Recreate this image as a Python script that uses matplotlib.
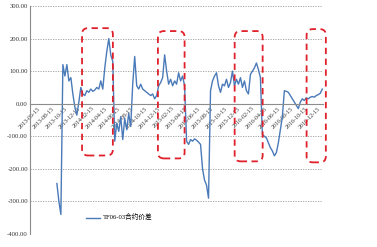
import pandas as pd
import matplotlib
matplotlib.use("Agg")
import matplotlib.pyplot as plt
import matplotlib.dates as mdates
from matplotlib.patches import FancyBboxPatch

plt.rcParams['font.family'] = ['Liberation Serif', 'Noto Sans CJK SC']

# spread series, one reading about every 9 days from 2013-10-16
spread = [
    -245, -300, -340, 120, 85, 120, 70, 80, 30, -10,
    -35, 5, 50, 30, 25, 40, 35, 45, 38, 42,
    50, 45, 70, 45, 110, 160, 200, 150, 130, -115,
    -60, -85, -40, -110, -45, -80, -30, -70, 60, 145,
    55, 45, 60, 45, 40, 35, 30, 25, 30, 15,
    25, 55, 65, 80, 150, 100, 60, 75, 55, 70,
    60, 95, 70, 85, 55, -115, -125, -110, -115, -108,
    -112, -118, -125, -200, -235, -250, -290, 40, 70, 85,
    95, 55, 35, 60, 55, 75, 50, 65, 100, 55,
    75, 60, 80, 50, 70, 40, 30, 90, 100, 110,
    125, 105, 80, -95, -100, -105, -120, -135, -145, -160,
    -150, -120, -80, -40, 40, 38, 35, 25, 15, 5,
    -5, -15, 5, 15, 10, 18, 15, 20, 22, 20,
    25, 28, 32, 45,
]
dates = pd.date_range('2013-10-16', periods=len(spread), freq='219h').to_pydatetime()

# highlighted roll windows: start, end, top, bottom
boxes = [
    ('2014-02-08', '2014-06-29', 232, -159),
    ('2015-01-21', '2015-05-23', 223, -168),
    ('2016-01-07', '2016-05-14', 223, -177),
    ('2016-12-01', '2017-02-27', 229, -180),
]

fig = plt.figure(figsize=(3.77, 2.47), dpi=100)
ax = fig.add_axes([30 / 377, 1 - 234 / 247, 293 / 377, 228 / 247])

ax.plot(dates, spread, color='#4a7ab8', lw=1.0, label='TF06-03合约价差')

ax.set_ylim(-400, 300)
ax.set_xlim(pd.Timestamp('2013-06-15').to_pydatetime(), pd.Timestamp('2017-02-14').to_pydatetime())
ax.set_yticks(range(-400, 301, 100))
ax.set_yticklabels(['%.2f' % v for v in range(-400, 301, 100)], fontsize=4.8, color='#333333')
ax.xaxis.set_major_locator(mdates.MonthLocator(bymonth=[2, 4, 6, 8, 10, 12], bymonthday=15))
ax.xaxis.set_major_formatter(mdates.DateFormatter('%Y-%m-%d'))
ax.tick_params(axis='both', length=0, pad=1.5)
ax.tick_params(axis='x', labelsize=4.3, labelcolor='#333333', labelrotation=45)
for lab in ax.get_xticklabels():
    lab.set_ha('right')
    lab.set_va('top')
    lab.set_rotation_mode('anchor')

for v in range(-400, 301, 100):
    if v != 0:
        ax.axhline(v, color='#9a9a9a', lw=0.6, ls=(0, (1.5, 1.5)), zorder=0)

for s in ['top', 'right']:
    ax.spines[s].set_visible(False)
ax.spines['bottom'].set_position(('data', 0))
ax.spines['bottom'].set_color('#8c8c8c')
ax.spines['bottom'].set_linewidth(0.8)
ax.spines['left'].set_color('#8c8c8c')
ax.spines['left'].set_linewidth(0.8)

ax.legend(loc='lower left', bbox_to_anchor=(0.17, 0.03), frameon=False, fontsize=4.8,
          handlelength=2.2, handletextpad=0.4)

fig.canvas.draw()
for start, end, top, bottom in boxes:
    x0, y0 = ax.transData.transform((mdates.date2num(pd.Timestamp(start).to_pydatetime()), bottom))
    x1, y1 = ax.transData.transform((mdates.date2num(pd.Timestamp(end).to_pydatetime()), top))
    patch = FancyBboxPatch((x0, y0), x1 - x0, y1 - y0, boxstyle='round,pad=0,rounding_size=6',
                           transform=None, fill=False, edgecolor='#e0202a', lw=1.3,
                           ls=(0, (3.5, 2.5)), clip_on=False)
    fig.patches.append(patch)

fig.savefig('out.png', dpi=100)
